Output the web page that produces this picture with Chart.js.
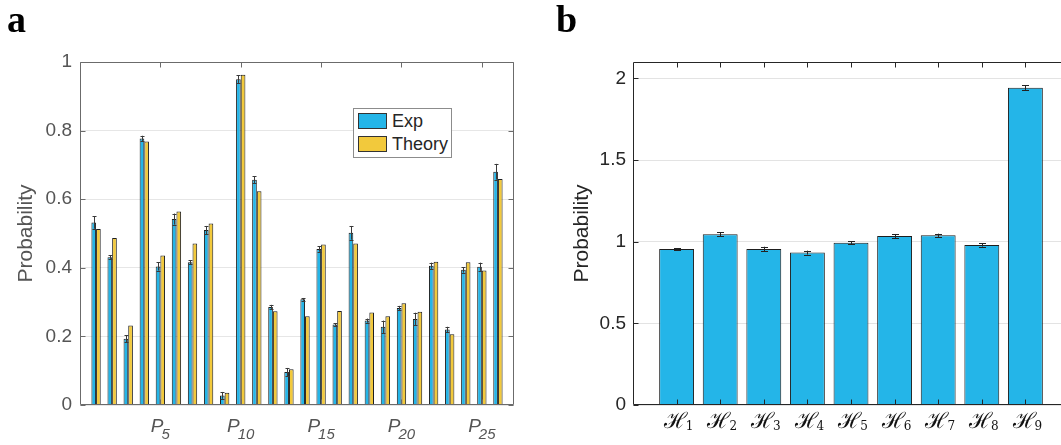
<!DOCTYPE html>
<html>
<head>
<meta charset="utf-8">
<script src="https://cdn.jsdelivr.net/npm/chart.js"></script>
<style>
  html, body { margin: 0; padding: 0; background: #fff; overflow: hidden; width: 1061px; height: 445px; }
  #wrap { position: relative; width: 1061px; height: 445px; overflow: hidden; }
  canvas { position: absolute; top: 0; }
  .panel { position: absolute; top: 0; font-family: 'Liberation Serif', serif; font-weight: bold; font-size: 38px; line-height: 1; color: #000; }
  #legendA { position: absolute; left: 353px; top: 108px; width: 97px; height: 48px; border: 1px solid #8c8c8c; background: #fff;
             font-family: 'Liberation Sans', Arial, sans-serif; font-size: 18px; color: #262626; }
  #legendA .row { position: absolute; left: 4px; height: 17px; line-height: 17px; }
  #legendA .sw { display: inline-block; width: 29px; height: 16px; border: 1px solid #333; vertical-align: top; box-sizing: border-box; }
  #legendA .lbl { position: absolute; left: 34px; top: 0; white-space: nowrap; }
</style>
</head>
<body>
<div id="wrap">
  <canvas id="chartA" width="530" height="445" style="left:0"></canvas>
  <canvas id="chartB" width="540" height="445" style="left:540px"></canvas>
  <div class="panel" style="left:7px">a</div>
  <div class="panel" style="left:556px">b</div>
  <div id="legendA">
    <div class="row" style="top:4px"><span class="sw" style="background:#24b5e8"></span><span class="lbl">Exp</span></div>
    <div class="row" style="top:27px"><span class="sw" style="background:#f2c93c"></span><span class="lbl">Theory</span></div>
  </div>
</div>
<script>
// panel a: 26 measured probabilities, experiment vs theory
const categoriesA = ['P1','P2','P3','P4','P5','P6','P7','P8','P9','P10','P11','P12','P13',
                     'P14','P15','P16','P17','P18','P19','P20','P21','P22','P23','P24','P25','P26'];
const expA    = [0.532,0.431,0.193,0.777,0.404,0.542,0.416,0.510,0.028,0.950,0.657,0.286,0.096,
                 0.308,0.455,0.235,0.502,0.246,0.228,0.283,0.251,0.406,0.220,0.394,0.403,0.680];
const expErrA = [0.018,0.005,0.010,0.008,0.012,0.016,0.006,0.012,0.010,0.011,0.010,0.006,0.012,
                 0.004,0.008,0.004,0.020,0.006,0.018,0.006,0.018,0.009,0.008,0.008,0.012,0.023];
const theoryA = [0.513,0.487,0.232,0.768,0.436,0.564,0.471,0.529,0.036,0.963,0.623,0.273,0.104,
                 0.259,0.468,0.274,0.471,0.270,0.259,0.297,0.272,0.418,0.206,0.416,0.392,0.659];
const xTickGroupsA = [5, 10, 15, 20, 25];
const yTicksA = [0, 0.2, 0.4, 0.6, 0.8, 1];

// panel b
const categoriesB = ['1','2','3','4','5','6','7','8','9'];
const expB    = [0.955,1.045,0.955,0.933,0.994,1.035,1.039,0.980,1.943];
const expErrB = [0.006,0.012,0.014,0.012,0.008,0.012,0.010,0.010,0.014];
const yTicksB = [0, 0.5, 1, 1.5, 2];

const BLUE = '#24b5e8';
const YELLOW = '#f2c93c';

// pad with an empty slot at each end so the axis runs from 0 to N+1
const pad = arr => [null, ...arr, null];

function errorBars(datasetIndex, errs, capW, color) {
  return {
    id: 'errbars',
    afterDatasetsDraw(chart) {
      const ctx = chart.ctx, ys = chart.scales.y;
      const meta = chart.getDatasetMeta(datasetIndex);
      const vals = chart.data.datasets[datasetIndex].data;
      ctx.save();
      ctx.strokeStyle = color;
      ctx.lineWidth = 1;
      meta.data.forEach((bar, i) => {
        const v = vals[i];
        if (v == null) return;
        const e = errs[i - 1];
        const x = Math.round(bar.x) + 0.5;
        const y1 = ys.getPixelForValue(v + e), y2 = ys.getPixelForValue(v - e);
        ctx.beginPath();
        ctx.moveTo(x, y1); ctx.lineTo(x, y2);
        ctx.moveTo(x - capW / 2, Math.round(y1) + 0.5); ctx.lineTo(x + capW / 2, Math.round(y1) + 0.5);
        ctx.moveTo(x - capW / 2, Math.round(y2) + 0.5); ctx.lineTo(x + capW / 2, Math.round(y2) + 0.5);
        ctx.stroke();
      });
      ctx.restore();
    }
  };
}

// matlab style box with inward ticks, plus subscripted category labels
function boxAndLabels(cfg) {
  return {
    id: 'boxlabels',
    afterDraw(chart) {
      const ctx = chart.ctx, a = chart.chartArea, xs = chart.scales.x, ys = chart.scales.y;
      ctx.save();
      ctx.strokeStyle = cfg.axisColor;
      ctx.lineWidth = 1;
      const L = Math.round(a.left) + 0.5, R = Math.round(a.right) - 0.5;
      const T = Math.round(a.top) + 0.5, B = Math.round(a.bottom) - 0.5;
      ctx.beginPath();
      ctx.moveTo(L, B); ctx.lineTo(L, T); ctx.lineTo(R, T); ctx.lineTo(R, B); ctx.lineTo(L, B);
      cfg.yTicks.forEach(v => {
        const y = Math.round(ys.getPixelForValue(v)) + 0.5;
        ctx.moveTo(L, y); ctx.lineTo(L + 5, y);
        ctx.moveTo(R, y); ctx.lineTo(R - 5, y);
      });
      cfg.xTicks.forEach(k => {
        const x = Math.round(xs.getPixelForValue(k)) + 0.5;
        ctx.moveTo(x, B); ctx.lineTo(x, B - 5);
        ctx.moveTo(x, T); ctx.lineTo(x, T + 5);
      });
      ctx.stroke();

      ctx.fillStyle = cfg.labelColor;
      ctx.textAlign = 'left';
      ctx.textBaseline = 'alphabetic';
      cfg.xTicks.forEach((k, i) => {
        const x = xs.getPixelForValue(k);
        const main = cfg.main, sub = cfg.subs[i];
        ctx.font = cfg.mainFont;
        const w1 = ctx.measureText(main).width;
        ctx.font = cfg.subFont;
        const w2 = ctx.measureText(sub).width;
        const x0 = x - (w1 + w2 - cfg.kern) / 2 + cfg.shift;
        ctx.font = cfg.mainFont;
        ctx.fillText(main, x0, cfg.baseY);
        ctx.font = cfg.subFont;
        ctx.fillText(sub, x0 + w1 - cfg.kern, cfg.baseY + cfg.subDy);
      });
      ctx.restore();
    }
  };
}

const tickFont = { family: "'Liberation Sans', Arial, sans-serif", size: 19 };
const titleFont = { family: "'Liberation Sans', Arial, sans-serif", size: 21 };

new Chart(document.getElementById('chartA'), {
  type: 'bar',
  data: {
    labels: ['', ...categoriesA, ''],
    datasets: [
      { label: 'Exp', data: pad(expA), backgroundColor: BLUE, borderColor: '#1e1e1e', borderWidth: 1 },
      { label: 'Theory', data: pad(theoryA), backgroundColor: YELLOW, borderColor: '#1e1e1e', borderWidth: 1 }
    ]
  },
  options: {
    responsive: false,
    animation: false,
    devicePixelRatio: 1,
    layout: { padding: { left: 0, top: 62, right: 16, bottom: 0 } },
    datasets: { bar: { categoryPercentage: 0.58, barPercentage: 1 } },
    plugins: { legend: { display: false }, tooltip: { enabled: false } },
    scales: {
      x: {
        offset: false,
        grid: { display: false },
        border: { display: false },
        ticks: { display: false },
        afterFit: s => { s.height = 40; }
      },
      y: {
        min: 0, max: 1,
        afterBuildTicks: s => { s.ticks = yTicksA.map(v => ({ value: v })); },
        grid: { color: '#e6e6e6', drawTicks: false },
        border: { display: false },
        ticks: { font: tickFont, color: '#555', padding: 8, callback: v => String(v) },
        title: { display: true, text: 'Probability', font: titleFont, color: '#555', padding: { top: 14, bottom: 0 } },
        afterFit: s => { s.width = 80; }
      }
    }
  },
  plugins: [
    errorBars(0, expErrA, 4, '#3a3a3a'),
    boxAndLabels({
      axisColor: '#6b6b6b', labelColor: '#555', yTicks: yTicksA, xTicks: xTickGroupsA,
      main: 'P', subs: ['5', '10', '15', '20', '25'],
      mainFont: "italic 19px 'Liberation Sans', Arial, sans-serif",
      subFont: "italic 15px 'Liberation Sans', Arial, sans-serif",
      kern: 2, shift: 0, baseY: 432, subDy: 7
    })
  ]
});

new Chart(document.getElementById('chartB'), {
  type: 'bar',
  data: {
    labels: ['', ...categoriesB, ''],
    datasets: [
      { label: 'Exp', data: pad(expB), backgroundColor: BLUE, borderColor: '#1e1e1e', borderWidth: 1 }
    ]
  },
  options: {
    responsive: false,
    animation: false,
    devicePixelRatio: 1,
    layout: { padding: { left: 0, top: 62, right: 11, bottom: 0 } },
    datasets: { bar: { categoryPercentage: 0.8, barPercentage: 1 } },
    plugins: { legend: { display: false }, tooltip: { enabled: false } },
    scales: {
      x: {
        offset: false,
        grid: { display: false },
        border: { display: false },
        ticks: { display: false },
        afterFit: s => { s.height = 40; }
      },
      y: {
        min: 0, max: 2.1,
        afterBuildTicks: s => { s.ticks = yTicksB.map(v => ({ value: v })); },
        grid: { color: '#e3e3e3', drawTicks: false },
        border: { display: false },
        ticks: { font: tickFont, color: '#262626', padding: 7, callback: v => String(v) },
        title: { display: true, text: 'Probability', font: titleFont, color: '#262626', padding: { top: 30, bottom: 0 } },
        afterFit: s => { s.width = 93; }
      }
    }
  },
  plugins: [
    errorBars(0, expErrB, 7, '#222'),
    boxAndLabels({
      axisColor: '#262626', labelColor: '#111', yTicks: yTicksB, xTicks: [1, 2, 3, 4, 5, 6, 7, 8, 9],
      main: 'ℋ', subs: categoriesB,
      mainFont: "22px 'DejaVu Serif', serif",
      subFont: "12px 'DejaVu Serif', serif",
      kern: 1, shift: 2, baseY: 428, subDy: 2
    })
  ]
});
</script>
</body>
</html>
